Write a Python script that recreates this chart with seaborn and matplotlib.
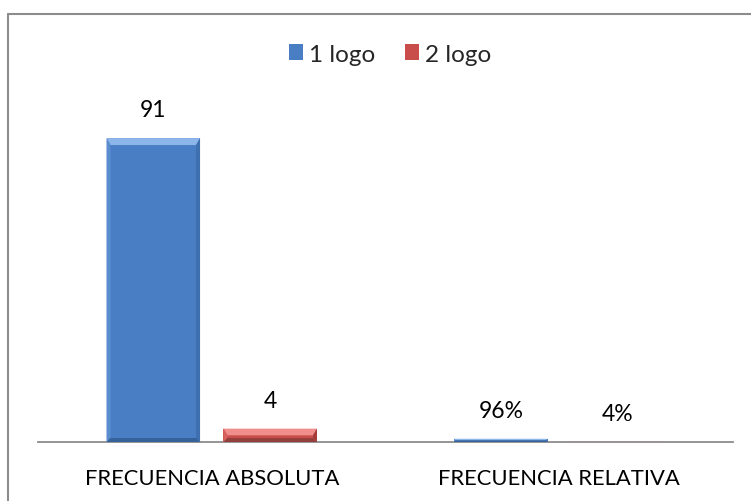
import matplotlib
matplotlib.use("Agg")
import matplotlib.pyplot as plt
from matplotlib.patches import Polygon
from matplotlib.lines import Line2D
import seaborn as sns
import pandas as pd

categorias = ["FRECUENCIA ABSOLUTA", "FRECUENCIA RELATIVA"]
series = ["1 logo", "2 logo"]
logo_1 = [91, 0.96]
logo_2 = [4, 0.04]
etiquetas_1 = ["91", "96%"]
etiquetas_2 = ["4", "4%"]

colores = {"1 logo": "#4A7EC4", "2 logo": "#C94E4B"}
bisel = {
    "1 logo": {"top": "#8CB6EA", "left": "#5A8DD0", "right": "#3E6FAE", "bottom": "#36629C"},
    "2 logo": {"top": "#F08E8B", "left": "#D8605D", "right": "#A53C39", "bottom": "#93403D"},
}

df = pd.DataFrame({
    "categoria": categorias * 2,
    "valor": logo_1 + logo_2,
    "serie": [series[0]] * len(categorias) + [series[1]] * len(categorias),
})

sns.set_theme(style="white")
plt.rcParams["font.family"] = ["Lato", "DejaVu Sans"]

W, H = 751, 502
fig = plt.figure(figsize=(W / 100, H / 100), dpi=100)
ax = fig.add_axes([38 / W, 59 / H, (733 - 38) / W, 334 / H])

sns.barplot(data=df, x="categoria", y="valor", hue="serie", palette=colores,
            width=0.673, gap=0.2, saturation=1, ax=ax, edgecolor="none",
            linewidth=0, legend=True)

ax.set_ylim(0, 100)
ax.set_xlim(-0.5, 1.5)
ax.set_xlabel("")
ax.set_ylabel("")
ax.set_yticks([])
for s in ["left", "right", "top"]:
    ax.spines[s].set_visible(False)
ax.spines["bottom"].set_color("#8C8C8C")
ax.spines["bottom"].set_linewidth(1.3)
ax.tick_params(axis="x", length=0, pad=19, labelsize=15.8, labelcolor="#000000")

# bevelled faces on every bar
px_w = (733 - 38)
px_h = 334
for cont, serie in zip(ax.containers, series):
    for bar in cont:
        x0, y0 = bar.get_x(), bar.get_y()
        w, h = bar.get_width(), bar.get_height()
        if h <= 0:
            continue
        hp = h / 100 * px_h
        b = min(7.0, hp / 2)
        bs = min(4.0, hp / 2)
        dx = bs / px_w * 2.0
        dy = b / px_h * 100
        dyb = min(4.0, hp / 2) / px_h * 100
        x1, y1 = x0 + w, y0 + h
        c = bisel[serie]
        faces = [
            ([(x0, y1), (x1, y1), (x1 - dx, y1 - dy), (x0 + dx, y1 - dy)], c["top"]),
            ([(x0, y0), (x0, y1), (x0 + dx, y1 - dy), (x0 + dx, y0 + dyb)], c["left"]),
            ([(x1, y0), (x1, y1), (x1 - dx, y1 - dy), (x1 - dx, y0 + dyb)], c["right"]),
            ([(x0, y0), (x1, y0), (x1 - dx, y0 + dyb), (x0 + dx, y0 + dyb)], c["bottom"]),
        ]
        for pts, col in faces:
            ax.add_patch(Polygon(pts, closed=True, facecolor=col, edgecolor="none", zorder=3))

for cont, labels in zip(ax.containers, [etiquetas_1, etiquetas_2]):
    ax.bar_label(cont, labels=labels, padding=13, fontsize=16.5, color="#000000")

handles, lbls = ax.get_legend_handles_labels()
ax.legend(handles, lbls, loc="center", bbox_to_anchor=((390 - 38) / 695, (H - 55 - 59) / 334),
          ncol=2, frameon=False, fontsize=17.5, handlelength=0.6, handleheight=0.6,
          handletextpad=0.25, columnspacing=1.2, borderaxespad=0)

# chart area border (left and top edges visible)
fig.add_artist(Line2D([8 / W, 8 / W], [0, 1 - 15 / H], transform=fig.transFigure,
                      color="#8C8C8C", linewidth=1.5))
fig.add_artist(Line2D([8 / W, 1], [1 - 15 / H, 1 - 15 / H], transform=fig.transFigure,
                      color="#8C8C8C", linewidth=1.5))

fig.savefig("out.png", dpi=100, facecolor="white")
